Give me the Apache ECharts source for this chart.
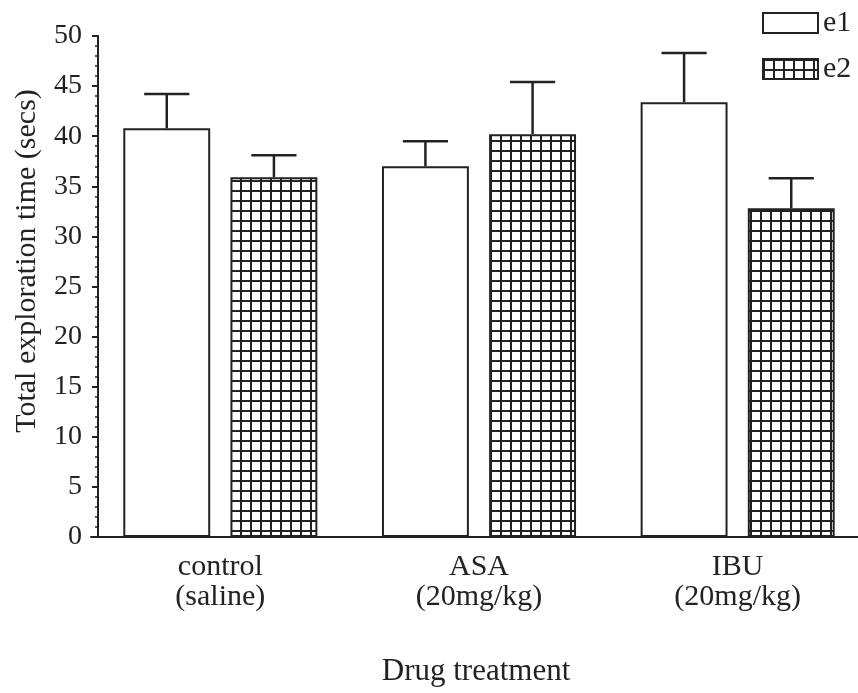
<!DOCTYPE html>
<html>
<head>
<meta charset="utf-8">
<script src="https://cdn.jsdelivr.net/npm/echarts@6/dist/echarts.min.js"></script>
<style>
html,body{margin:0;padding:0;background:#fff;}
#chart{width:858px;height:693px;}
</style>
</head>
<body>
<div id="chart"></div>
<script>
// ---- data ----
const categories = ['control\n(saline)', 'ASA\n(20mg/kg)', 'IBU\n(20mg/kg)'];
const seriesNames = ['e1', 'e2'];
const e1Mean = [40.8, 37.0, 43.4];
const e1Upper = [44.2, 39.5, 48.3];
const e2Mean = [35.9, 40.2, 32.8];
const e2Upper = [38.1, 45.4, 35.8];
const yTicks = [0, 5, 10, 15, 20, 25, 30, 35, 40, 45, 50];

const FONT = '"Liberation Serif", "Times New Roman", serif';
const BAR_FRAC = 0.336;
const BAR_GAP = 0.233;

// grid pattern for e2
const pc = document.createElement('canvas');
pc.width = 10; pc.height = 10;
const pctx = pc.getContext('2d');
pctx.fillStyle = '#fff'; pctx.fillRect(0, 0, 10, 10);
pctx.fillStyle = '#222';
pctx.fillRect(0, 0, 2, 10);
pctx.fillRect(0, 0, 10, 2);

function errorSeries(name, mean, upper, sign) {
  return {
    type: 'custom',
    name: name + '_err',
    silent: true,
    z: 5,
    data: mean.map((m, i) => [i, m, upper[i]]),
    renderItem: function (params, api) {
      const cat = api.value(0);
      const band = api.size([1, 0])[0];
      const off = sign * band * BAR_FRAC * (1 + BAR_GAP) / 2;
      const pm = api.coord([cat, api.value(1)]);
      const pu = api.coord([cat, api.value(2)]);
      const x = pm[0] + off;
      const half = band * BAR_FRAC * 0.26;
      const st = { stroke: '#222', lineWidth: 2.5 };
      return {
        type: 'group',
        children: [
          { type: 'line', shape: { x1: x, y1: pm[1], x2: x, y2: pu[1] }, style: st },
          { type: 'line', shape: { x1: x - half, y1: pu[1], x2: x + half, y2: pu[1] }, style: st }
        ]
      };
    }
  };
}

const chart = echarts.init(document.getElementById('chart'), null, { renderer: 'canvas' });
chart.setOption({
  animation: false,
  backgroundColor: '#fff',
  textStyle: { fontFamily: FONT, color: '#222' },
  grid: { left: 91, top: 36, width: 776, height: 501, outerBoundsMode: 'none', containLabel: false },
  legend: {
    orient: 'vertical',
    left: 762,
    top: 8,
    padding: 0,
    itemWidth: 55,
    itemHeight: 20,
    itemGap: 16,
    icon: 'rect',
    data: seriesNames,
    textStyle: { fontFamily: FONT, fontSize: 30, color: '#222', lineHeight: 30 }
  },
  xAxis: {
    type: 'category',
    data: categories,
    axisLine: { lineStyle: { color: '#222', width: 2 } },
    axisTick: { show: false },
    axisLabel: { fontFamily: FONT, fontSize: 30, color: '#222', lineHeight: 30, margin: 15 }
  },
  yAxis: {
    type: 'value',
    min: yTicks[0],
    max: yTicks[yTicks.length - 1],
    interval: 5,
    offset: -7,
    splitLine: { show: false },
    axisLine: { show: true, lineStyle: { color: '#222', width: 2 } },
    axisTick: { show: true, length: 6, lineStyle: { color: '#222', width: 2 } },
    minorTick: { show: true, splitNumber: 5, length: 3, lineStyle: { color: '#222', width: 1.5 } },
    axisLabel: { fontFamily: FONT, fontSize: 28, color: '#222', margin: 16 }
  },
  title: {
    text: 'Drug treatment',
    left: 476,
    top: 656,
    padding: 0,
    textAlign: 'center',
    textStyle: { fontFamily: FONT, fontSize: 31, fontWeight: 'normal', color: '#222' }
  },
  graphic: [{
    type: 'text',
    x: 27,
    y: 261,
    rotation: Math.PI / 2,
    style: {
      text: 'Total exploration time (secs)',
      font: '30px ' + FONT,
      fill: '#222',
      align: 'center',
      verticalAlign: 'middle'
    }
  }],
  series: [
    {
      type: 'bar',
      name: seriesNames[0],
      data: e1Mean,
      barWidth: (BAR_FRAC * 100) + '%',
      barGap: (BAR_GAP * 100) + '%',
      itemStyle: { color: '#fff', borderColor: '#222', borderWidth: 2 }
    },
    {
      type: 'bar',
      name: seriesNames[1],
      data: e2Mean,
      barWidth: (BAR_FRAC * 100) + '%',
      barGap: (BAR_GAP * 100) + '%',
      itemStyle: { color: { image: pc, repeat: 'repeat' }, borderColor: '#222', borderWidth: 2 }
    },
    errorSeries('e1', e1Mean, e1Upper, -1),
    errorSeries('e2', e2Mean, e2Upper, 1)
  ]
});
</script>
</body>
</html>
